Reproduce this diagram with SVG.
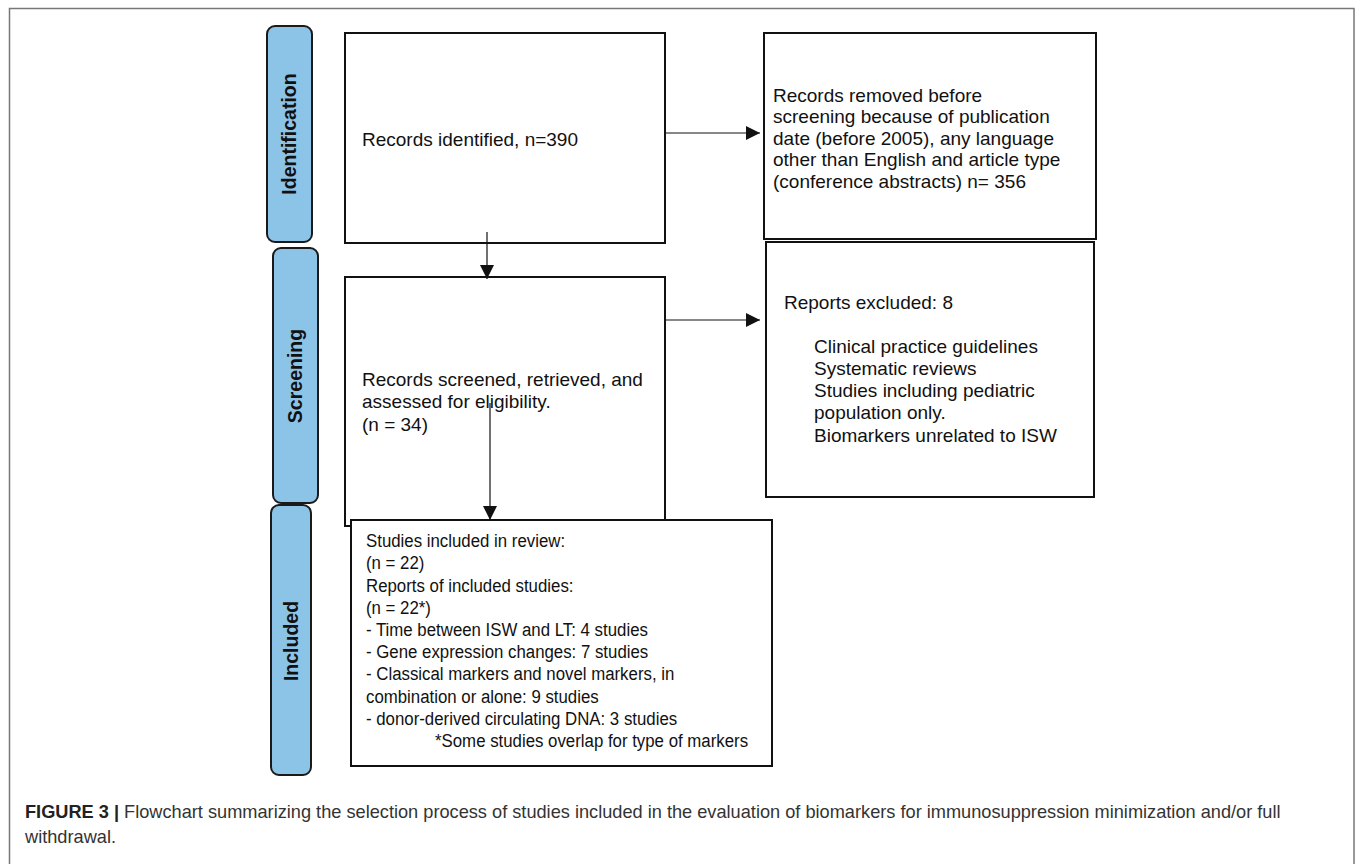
<svg xmlns="http://www.w3.org/2000/svg" width="1355" height="864" viewBox="0 0 1355 864">
<style>
.frame{fill:none;stroke:#777;stroke-width:1.5}
.lane{fill:#8CC4E8;stroke:#1a1a1a;stroke-width:2}
.lt{font-family:"Liberation Sans",Arial,sans-serif;font-weight:bold;font-size:19.5px;fill:#111;text-anchor:middle}
.box{fill:#fff;stroke:#111;stroke-width:2}
.bt{font-family:"Liberation Sans",Arial,sans-serif;font-size:19px;fill:#111}
.cn{fill:none;stroke:#111;stroke-width:1.2}
.cap{font-family:"Liberation Sans",Arial,sans-serif;font-size:18.2px;fill:#333}
</style>
<defs>
<marker id="ah" markerUnits="userSpaceOnUse" markerWidth="14" markerHeight="14" viewBox="0 0 12 12" refX="12" refY="6" orient="auto">
<path d="M0,0 L12,6 L0,12 Z" fill="#111"/>
</marker>
</defs>
<rect width="1355" height="864" fill="#fff"/>
<rect class="frame" x="9.5" y="8.5" width="1344.5" height="870"/>

<g id="lane-identification">
<rect class="lane" x="267" y="26" width="45" height="216" rx="8"/>
<text class="lt" transform="translate(296,134) rotate(-90)">Identification</text>
</g>
<g id="lane-screening">
<rect class="lane" x="273" y="248" width="45" height="255" rx="8"/>
<text class="lt" transform="translate(302,376) rotate(-90)">Screening</text>
</g>
<g id="lane-included">
<rect class="lane" x="271" y="505" width="40" height="270" rx="8"/>
<text class="lt" transform="translate(298,641) rotate(-90)">Included</text>
</g>

<g id="node-identified">
<rect class="box" x="345" y="33" width="320" height="210"/>
<text class="bt" x="362" y="146">Records identified, n=390</text>
</g>
<g id="node-removed">
<rect class="box" x="764" y="33" width="332" height="206"/>
<text class="bt" x="773" y="102">Records removed before</text>
<text class="bt" x="773" y="123">screening because of publication</text>
<text class="bt" x="773" y="145">date (before 2005), any language</text>
<text class="bt" x="773" y="166">other than English and article type</text>
<text class="bt" x="773" y="188">(conference abstracts) n= 356</text>
</g>
<g id="node-excluded">
<rect class="box" x="766" y="242" width="328" height="255"/>
<text class="bt" x="784" y="309">Reports excluded: 8</text>
<text class="bt" x="814" y="353">Clinical practice guidelines</text>
<text class="bt" x="814" y="375">Systematic reviews</text>
<text class="bt" x="814" y="397">Studies including pediatric</text>
<text class="bt" x="814" y="419">population only.</text>
<text class="bt" x="814" y="442">Biomarkers unrelated to ISW</text>
</g>
<g id="node-screened">
<rect class="box" x="345" y="277" width="320" height="249"/>
<text class="bt" x="362" y="386">Records screened, retrieved, and</text>
<text class="bt" x="362" y="408">assessed for eligibility.</text>
<text class="bt" x="362" y="431">(n = 34)</text>
</g>
<g id="node-included">
<rect class="box" x="351" y="520" width="421" height="246"/>
<g transform="translate(366,0) scale(0.885,1) translate(-366,0)">
<text class="bt" x="366" y="547">Studies included in review:</text>
<text class="bt" x="366" y="569">(n = 22)</text>
<text class="bt" x="366" y="592">Reports of included studies:</text>
<text class="bt" x="366" y="614">(n = 22*)</text>
<text class="bt" x="366" y="636">- Time between ISW and LT: 4 studies</text>
<text class="bt" x="366" y="658">- Gene expression changes: 7 studies</text>
<text class="bt" x="366" y="680">- Classical markers and novel markers, in</text>
<text class="bt" x="366" y="703">combination or alone: 9 studies</text>
<text class="bt" x="366" y="725">- donor-derived circulating DNA: 3 studies</text>
<text class="bt" x="444" y="747">*Some studies overlap for type of markers</text>
</g>
</g>

<g id="connectors">
<line class="cn" x1="487" y1="232" x2="487" y2="279" marker-end="url(#ah)"/>
<line class="cn" x1="490" y1="403" x2="490" y2="520" marker-end="url(#ah)"/>
<line class="cn" x1="665" y1="133" x2="760" y2="133" marker-end="url(#ah)"/>
<line class="cn" x1="666" y1="320" x2="760" y2="320" marker-end="url(#ah)"/>
</g>

<g id="caption">
<text class="cap" x="25" y="818"><tspan font-weight="bold" fill="#222">FIGURE 3 | </tspan>Flowchart summarizing the selection process of studies included in the evaluation of biomarkers for immunosuppression minimization and/or full</text>
<text class="cap" x="25" y="843">withdrawal.</text>
</g>
</svg>
